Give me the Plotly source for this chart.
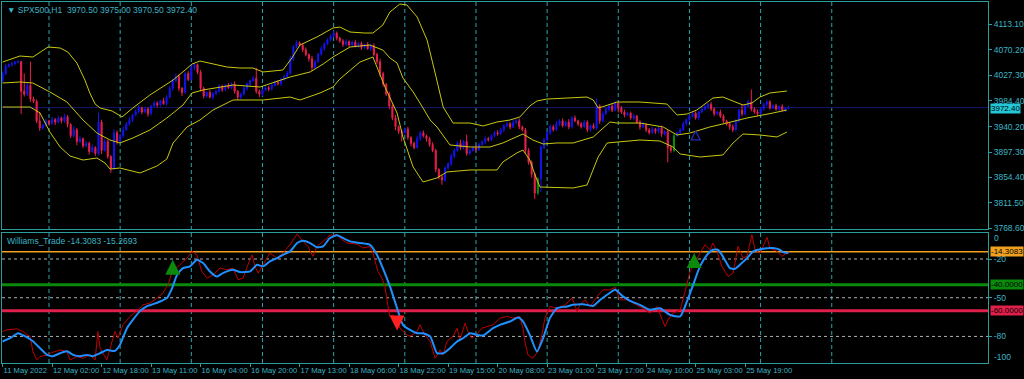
import plotly.graph_objects as go

# ---------------- data ----------------
first_open = 4018.0
closes = [
    4030, 4042, 4045, 4047, 4049, 4050, 4000, 3995, 4010, 3987,
    3983, 3950, 3938, 3942, 3950, 3946, 3952, 3948, 3955, 3950,
    3957, 3944, 3925, 3935, 3915, 3920, 3908, 3912, 3898, 3905,
    3895, 3948, 3900, 3915, 3890, 3870, 3930, 3915, 3925, 3935,
    3945, 3952, 3960, 3966, 3972, 3965, 3970, 3962, 3975, 3980,
    3977, 3984, 3979, 3990, 4005, 4018, 4025, 4005, 3998, 4030,
    4020, 4040, 4045, 4032, 4005, 3992, 3998, 3990, 3996, 4000,
    4008, 4003, 4010, 4006, 4012, 4000, 3990, 3995, 4005, 4012,
    4018, 4022, 4000, 3995, 4002, 4006, 4004, 4010, 4015, 4013,
    4020, 4025, 4030, 4055, 4075, 4082, 4078, 4070, 4062, 4055,
    4040, 4050, 4063, 4072, 4080, 4087, 4093, 4098, 4090, 4085,
    4079, 4084, 4078, 4083, 4076, 4081, 4074, 4079, 4072, 4077,
    4062, 4050, 4030, 4012, 3995, 3975, 3955, 3940, 3932, 3930,
    3936, 3922, 3912, 3905, 3920, 3930, 3925, 3920, 3910, 3900,
    3868, 3855, 3850, 3870, 3878, 3890, 3900, 3912, 3905, 3915,
    3895, 3900, 3905, 3902, 3910, 3915, 3920, 3918, 3925, 3930,
    3928, 3935, 3942, 3945, 3940, 3947, 3950, 3940, 3935, 3900,
    3880, 3860, 3828, 3852, 3905, 3918, 3930, 3940, 3935, 3945,
    3950, 3942, 3948, 3940, 3955, 3950, 3945, 3940, 3948, 3935,
    3942, 3938, 3975, 3950, 3962, 3970, 3975, 3968, 3980, 3972,
    3965, 3960, 3963, 3955, 3958, 3948, 3940, 3944, 3935, 3930,
    3936, 3932, 3938, 3928, 3932, 3905, 3900, 3925, 3930, 3935,
    3945, 3952, 3958, 3963, 3955, 3965, 3970, 3974, 3978, 3970,
    3962, 3965, 3958, 3950, 3945, 3940, 3935, 3950, 3968, 3962,
    3975, 3982, 3970, 3965, 3962, 3970, 3978, 3982, 3972, 3976,
    3970, 3974, 3968, 3970.5, 3972.4,
]
wick_up = [
    3, 4, 2, 3, 2, 3, 2, 30, 5, 40,
    4, 3, 15, 3, 4, 2, 5, 3, 4, 2,
    5, 3, 2, 6, 3, 5, 2, 4, 3, 5,
    2, 16, 4, 5, 3, 2, 6, 4, 3, 5,
    3, 4, 2, 3, 5, 2, 4, 3, 2, 4,
    3, 2, 5, 3, 4, 3, 5, 4, 2, 3,
    4, 5, 3, 2, 4, 3, 2, 4, 3, 2,
    4, 3, 2, 4, 3, 5, 2, 3, 4, 3,
    2, 4, 18, 3, 2, 4, 3, 2, 3, 4,
    2, 3, 4, 5, 3, 4, 2, 3, 4, 2,
    5, 3, 2, 4, 3, 2, 3, 4, 3, 2,
    3, 4, 2, 3, 4, 2, 3, 2, 4, 3,
    4, 3, 5, 3, 2, 4, 3, 5, 2, 4,
    3, 4, 2, 3, 5, 3, 4, 2, 3, 4,
    3, 2, 4, 3, 2, 5, 3, 4, 6, 3,
    12, 3, 2, 4, 3, 2, 4, 3, 2, 3,
    4, 3, 2, 4, 3, 5, 3, 4, 2, 3,
    4, 3, 2, 3, 4, 3, 2, 4, 3, 5,
    3, 4, 2, 5, 3, 4, 2, 3, 4, 3,
    2, 4, 13, 3, 4, 2, 3, 5, 3, 2,
    3, 4, 2, 3, 4, 2, 3, 4, 2, 3,
    4, 2, 3, 4, 2, 3, 4, 3, 2, 3,
    4, 2, 3, 4, 3, 2, 4, 3, 2, 4,
    3, 2, 4, 3, 2, 3, 4, 3, 2, 10,
    3, 4, 21, 3, 4, 2, 3, 4, 3, 2,
    3, 2, 4, 3, 2.6,
]
wick_dn = [
    4, 3, 2, 4, 3, 2, 38, 4, 3, 5,
    3, 4, 5, 3, 2, 4, 3, 5, 2, 4,
    3, 5, 4, 3, 6, 2, 4, 3, 5, 2,
    4, 3, 6, 2, 4, 8, 3, 5, 2, 3,
    2, 3, 4, 2, 3, 4, 2, 5, 3, 2,
    4, 3, 2, 3, 2, 4, 3, 5, 6, 2,
    3, 2, 4, 3, 5, 4, 3, 2, 4, 3,
    2, 4, 3, 2, 3, 4, 5, 3, 2, 4,
    3, 2, 4, 5, 3, 2, 4, 3, 2, 3,
    4, 2, 3, 2, 4, 3, 2, 4, 3, 5,
    6, 3, 2, 3, 4, 2, 3, 2, 4, 3,
    4, 2, 3, 4, 2, 3, 4, 3, 2, 4,
    3, 4, 5, 4, 3, 5, 4, 6, 4, 15,
    3, 4, 5, 3, 2, 4, 3, 5, 4, 3,
    5, 4, 8, 3, 2, 4, 3, 2, 4, 3,
    4, 3, 2, 4, 3, 2, 4, 3, 2, 3,
    3, 2, 4, 3, 4, 2, 3, 4, 3, 5,
    4, 6, 10, 3, 22, 3, 2, 4, 3, 2,
    4, 3, 2, 4, 3, 2, 4, 3, 2, 4,
    3, 2, 4, 5, 3, 2, 4, 3, 2, 8,
    3, 4, 2, 3, 4, 3, 5, 2, 4, 3,
    2, 4, 3, 5, 3, 25, 4, 3, 2, 3,
    2, 3, 4, 2, 3, 4, 2, 3, 4, 3,
    4, 2, 3, 4, 3, 5, 4, 3, 2, 4,
    3, 2, 4, 3, 4, 2, 3, 4, 3, 2,
    3, 4, 2, 3, 0,
]
green_bars = [173, 217]

upper_x = [0, 5.6, 9.8, 14.7, 18.6, 21.1, 24.0, 26.6, 28.2, 29.9,
           31.5, 35.4, 38.6, 42.1, 47.6, 50.9, 55.1, 59.0, 61.2, 63.8,
           68.0, 72.5, 76.7, 80.9, 84.2, 88.0, 90.6, 93.5, 96.1, 101.6,
           106.8, 109.0, 112.3, 117.1, 119.7, 122.9, 125.2, 128.4, 130.7, 134.0,
           137.2, 139.8, 142.4, 145.6, 151.1, 155.3, 159.8, 164.0, 167.2, 170.4,
           172.7, 175.9, 184.4, 188.9, 190.9, 192.5, 194.7, 198.6, 206.0, 214.7,
           218.0, 221.2, 224.4, 229.6, 232.8, 235.1, 239.3, 242.2, 244.8, 248.0,
           253.5]
upper_y = [4049.4, 4059.6, 4057.9, 4074.8, 4073.1, 4066.3, 4047.8, 4019.0, 3997.1, 3978.5,
           3971.8, 3966.7, 3956.6, 3971.8, 3993.7, 4005.5, 4019.0, 4035.9, 4046.0, 4051.1,
           4046.0, 4041.0, 4039.3, 4039.3, 4032.6, 4034.2, 4035.9, 4056.2, 4078.1, 4091.7,
           4106.9, 4108.5, 4100.1, 4098.4, 4098.4, 4111.9, 4133.9, 4147.4, 4145.7, 4125.4,
           4086.6, 4030.9, 3973.4, 3946.4, 3946.4, 3941.4, 3948.1, 3951.5, 3956.6, 3975.1,
           3983.6, 3986.9, 3988.6, 3990.3, 3985.3, 3971.8, 3975.1, 3981.9, 3981.9, 3978.5,
           3960.0, 3961.6, 3968.4, 3988.6, 3990.3, 3985.3, 3976.8, 3980.2, 3990.3, 3997.1,
           4000.5]
mid_x = [0, 5.6, 9.8, 15.3, 20.8, 26.0, 30.5, 34.7, 37.9, 42.1,
         47.6, 53.1, 58.3, 61.2, 64.8, 70.3, 74.5, 83.2, 88.0, 92.9,
         99.4, 103.6, 106.8, 109.0, 112.3, 118.7, 122.9, 125.2, 127.5, 129.4,
         132.7, 134.9, 138.2, 140.4, 144.6, 151.1, 157.5, 161.7, 166.2, 168.2,
         171.4, 174.7, 179.2, 184.4, 190.9, 196.3, 198.6, 206.0, 213.5, 218.0,
         222.2, 228.6, 234.1, 240.6, 249.0, 253.5]
mid_y = [4014.0, 4015.7, 4014.0, 3998.8, 3981.9, 3951.5, 3929.5, 3917.7, 3912.7, 3921.1,
         3934.6, 3954.9, 3976.8, 3997.1, 4002.2, 4007.2, 4010.6, 4007.2, 4015.7, 4024.1,
         4032.6, 4046.0, 4057.9, 4064.6, 4074.8, 4078.1, 4069.7, 4056.2, 4047.8, 4022.4,
         3998.8, 3980.2, 3951.5, 3939.7, 3909.3, 3905.9, 3905.9, 3912.7, 3922.8, 3927.9,
         3917.7, 3911.0, 3912.7, 3912.7, 3922.8, 3948.1, 3946.4, 3946.4, 3939.7, 3926.2,
         3929.5, 3939.7, 3946.4, 3954.9, 3963.3, 3968.4]
low_x = [0, 8.9, 12.1, 15.3, 18.6, 21.8, 26.0, 30.5, 33.1, 34.7,
         37.9, 44.4, 49.9, 53.1, 55.1, 59.6, 63.8, 68.0, 74.5, 84.2,
         92.9, 96.1, 102.6, 106.8, 109.0, 115.5, 119.7, 123.6, 127.5, 129.4,
         132.7, 135.9, 140.4, 143.6, 151.1, 159.8, 161.7, 166.2, 168.2, 170.4,
         172.7, 173.7, 184.4, 188.9, 192.5, 195.4, 206.0, 212.5, 216.7, 219.0,
         225.4, 232.8, 236.1, 239.3, 244.8, 250.3, 253.5]
low_y = [3973.4, 3973.4, 3963.3, 3931.2, 3905.9, 3890.7, 3883.9, 3887.3, 3878.9, 3868.7,
         3870.4, 3862.0, 3873.8, 3885.6, 3912.7, 3939.7, 3951.5, 3968.4, 3985.3, 3985.3,
         3990.3, 3985.3, 3997.1, 4007.2, 4020.7, 4049.4, 4057.9, 4007.2, 3963.3, 3922.8,
         3872.1, 3846.8, 3853.6, 3863.7, 3867.1, 3867.1, 3880.6, 3895.8, 3900.8, 3883.9,
         3850.2, 3838.3, 3836.7, 3841.7, 3889.0, 3912.7, 3917.7, 3916.0, 3905.9, 3894.1,
         3889.0, 3892.4, 3912.7, 3927.9, 3926.2, 3922.8, 3931.2]

# Williams %R (raw, red) and its signal (blue)
wr_x = [0, 1.4, 4.7, 6.6, 7.9, 8.9, 9.8, 11.1, 12.1, 14.4,
        16.3, 18.6, 20.8, 21.8, 24.0, 26.0, 28.2, 29.9, 30.8, 31.5,
        33.7, 34.7, 36.3, 37.3, 38.9, 41.2, 43.4, 45.4, 47.6, 49.9,
        51.8, 53.5, 54.8, 57.3, 59.6, 61.2, 62.8, 64.4, 66.1, 68.0,
        70.3, 72.5, 74.5, 76.1, 77.7, 79.3, 80.6, 81.6, 82.6, 84.2,
        86.4, 88.7, 90.6, 92.9, 95.2, 97.1, 98.7, 100.3, 101.6, 103.6,
        105.8, 108.1, 109.0, 111.3, 114.6, 116.5, 118.7, 119.7, 121.3, 122.6,
        123.6, 124.2, 125.2, 126.2, 127.5, 128.4, 130.7, 131.7, 134.0, 134.9,
        136.5, 138.2, 139.8, 141.4, 142.4, 143.6, 145.6, 146.9, 147.8, 149.5,
        150.4, 151.7, 153.3, 154.9, 156.6, 158.5, 160.8, 163.0, 164.9, 167.2,
        168.2, 168.8, 169.8, 171.4, 173.0, 174.3, 175.3, 176.9, 179.2, 181.8,
        184.1, 185.7, 186.6, 188.2, 189.9, 192.2, 194.1, 196.3, 198.0, 199.6,
        201.8, 203.7, 207.0, 209.2, 211.5, 214.1, 215.1, 216.7, 219.0, 220.6,
        222.2, 223.8, 225.4, 227.1, 228.6, 229.6, 230.9, 232.5, 234.5, 236.1,
        237.7, 239.3, 240.6, 242.2, 243.2, 244.8, 247.1, 248.0, 250.3, 251.9,
        253.5, 254]
wr_v = [-76.2, -74.9, -74.1, -76.2, -78.8, -80.0, -91.7, -98.2, -95.6, -94.3,
        -92.2, -90.5, -91.7, -98.2, -95.6, -96.9, -94.3, -98.2, -76.2, -89.1,
        -98.2, -89.1, -76.2, -81.4, -71.0, -64.5, -60.2, -55.5, -54.2, -50.3,
        -46.4, -40.0, -29.6, -24.5, -19.3, -14.1, -16.7, -29.6, -34.8, -32.2,
        -27.0, -28.3, -27.0, -36.1, -34.8, -24.5, -16.7, -25.7, -30.9, -24.5,
        -15.4, -19.3, -15.4, -8.9, -0.6, -6.3, -10.2, -17.9, -10.2, -6.3,
        -1.6, -1.2, -3.7, -7.6, -8.4, -11.5, -10.2, -15.4, -29.6, -34.8,
        -41.2, -51.6, -64.5, -63.3, -68.4, -73.6, -78.8, -80.0, -76.2, -71.0,
        -78.8, -83.9, -96.9, -90.5, -94.3, -83.9, -80.0, -73.6, -82.7, -69.7,
        -76.2, -81.4, -78.3, -73.6, -72.3, -71.0, -65.8, -64.5, -65.8, -64.5,
        -73.6, -83.9, -94.3, -96.9, -91.7, -78.8, -65.8, -56.8, -58.1, -55.5,
        -50.3, -60.6, -55.5, -51.6, -56.8, -49.0, -43.9, -43.9, -42.0, -51.6,
        -51.6, -54.2, -58.1, -62.0, -56.8, -72.3, -67.2, -62.0, -59.4, -45.1,
        -29.6, -23.1, -15.4, -8.9, -12.8, -7.6, -14.1, -25.7, -33.5, -30.9,
        -10.2, -19.3, -17.9, -1.2, -12.8, -15.4, -3.2, -11.5, -14.1, -17.9,
        -15.4, -14.3083]
sig_x = [0, 2.4, 5.0, 7.2, 9.8, 12.1, 14.4, 16.3, 18.6, 20.8,
         22.8, 25.0, 27.3, 29.2, 31.5, 33.7, 36.3, 37.9, 40.2, 42.1,
         44.4, 46.7, 48.6, 50.9, 53.1, 54.8, 56.4, 58.3, 60.6, 62.8,
         64.8, 67.0, 69.3, 71.2, 74.5, 76.7, 80.0, 82.2, 84.2, 86.4,
         88.7, 90.6, 92.9, 95.2, 97.1, 99.4, 101.6, 103.6, 105.8, 108.1,
         109.0, 112.3, 115.5, 118.7, 121.0, 122.9, 125.2, 127.5, 129.4, 131.7,
         134.0, 135.9, 138.2, 140.4, 142.4, 144.6, 146.9, 148.8, 151.1, 153.3,
         155.3, 158.5, 160.8, 164.0, 166.6, 168.2, 170.4, 172.7, 174.7, 176.9,
         179.2, 182.4, 184.4, 187.6, 190.9, 193.2, 195.4, 198.0, 200.5, 202.8,
         206.0, 209.2, 212.5, 215.7, 219.0, 221.2, 223.2, 225.4, 227.7, 229.6,
         231.2, 232.8, 235.1, 236.7, 238.3, 240.6, 242.6, 245.8, 249.0, 251.2,
         252.2, 254]
sig_v = [-83.9, -81.4, -77.5, -79.8, -83.7, -89.1, -94.3, -95.3, -93.0, -91.5,
         -94.3, -95.3, -94.3, -95.3, -93.0, -90.5, -91.2, -86.6, -73.6, -67.2,
         -60.4, -56.5, -55.0, -52.9, -50.3, -42.5, -32.2, -27.0, -25.7, -20.6,
         -23.1, -29.6, -33.5, -30.9, -28.3, -30.1, -29.6, -24.5, -25.7, -21.8,
         -19.3, -16.7, -14.1, -7.6, -5.8, -7.6, -10.9, -10.2, -3.7, -1.6,
         -2.4, -6.3, -7.6, -8.9, -16.7, -27.0, -41.2, -58.1, -71.0, -74.9,
         -77.5, -77.5, -80.0, -93.0, -93.0, -89.1, -83.9, -81.4, -77.5, -78.8,
         -79.3, -73.6, -71.0, -68.4, -65.3, -68.4, -78.8, -91.7, -81.4, -65.8,
         -58.1, -56.8, -55.5, -55.0, -56.3, -51.6, -47.7, -43.9, -49.0, -52.4,
         -55.5, -59.4, -58.1, -63.3, -64.5, -52.9, -40.0, -25.7, -16.7, -12.8,
         -12.8, -17.9, -27.0, -27.6, -24.5, -19.3, -14.1, -12.0, -11.5, -12.8,
         -14.6, -15.2693]

# signals
up_sig_bars = [55, 223.5]
up_sig_vals = [-20.6, -15.4]
dn_sig_bars = [127.5]
dn_sig_vals = [-75.4]
main_arrow_bars = [224]
main_arrow_prices = [3933.0]

# axes / labels
price_ticks = [4113.10, 4070.20, 4027.30, 3984.40, 3940.20, 3897.30, 3854.40, 3811.50, 3768.60]
price_tick_text = ["4113.10", "4070.20", "4027.30", "3984.40", "3940.20", "3897.30", "3854.40", "3811.50", "3768.60"]
bid_price = 3972.40
time_label_bars = [0, 16, 32, 48, 64, 80, 96, 112, 128, 144, 160, 176, 192, 208, 224, 240]
time_labels = ["11 May 2022", "12 May 02:00", "12 May 18:00", "13 May 11:00", "16 May 04:00",
               "16 May 20:00", "17 May 13:00", "18 May 06:00", "18 May 22:00", "19 May 15:00",
               "20 May 08:00", "23 May 01:00", "23 May 17:00", "24 May 10:00", "25 May 03:00",
               "25 May 19:00"]
grid_bars = [15, 38, 61, 84, 107, 130, 153, 176, 199, 222, 245, 268]
wr_current = -14.3083
wr_signal_current = -15.2693
level_buy = -40.0
level_sell = -60.0
dashed_levels = [-20, -50, -80]
wr_axis_ticks = [-20, -50, -80]
wr_edge_ticks = [0, -100]

# ---------------- styling ----------------
FONT = "Liberation Sans, Arial, sans-serif"
FRAME = "#2a9d9d"
TXT = "#3cb4c4"
GRID = "#26a6ae"
UP = "#1414f0"
DN = "#e8204c"
GRN = "#0a8f0a"
BAND = "#c8c810"
BID = "#16166e"
WR_RED = "#c00000"
WR_BLUE = "#2090ff"
ORANGE = "#f0a020"
LV_GREEN = "#0a8a0a"
LV_RED = "#e0204a"
DASHC = "#b0b0b0"
XR = [-0.19, 318.5]

N = len(closes)
opens = [first_open] + closes[:-1]
highs = [max(o, c) + u for o, c, u in zip(opens, closes, wick_up)]
lows = [min(o, c) - d for o, c, d in zip(opens, closes, wick_dn)]
bars = list(range(N))
norm = [i for i in bars if i not in green_bars]

fig = go.Figure()

fig.add_trace(go.Candlestick(
    x=norm, open=[opens[i] for i in norm], high=[highs[i] for i in norm],
    low=[lows[i] for i in norm], close=[closes[i] for i in norm],
    xaxis="x", yaxis="y",
    increasing=dict(line=dict(color=UP, width=1), fillcolor=UP),
    decreasing=dict(line=dict(color=DN, width=1), fillcolor=DN),
    whiskerwidth=0, showlegend=False, hoverinfo="skip"))
fig.add_trace(go.Candlestick(
    x=green_bars, open=[opens[i] for i in green_bars], high=[highs[i] for i in green_bars],
    low=[lows[i] for i in green_bars], close=[closes[i] for i in green_bars],
    xaxis="x", yaxis="y",
    increasing=dict(line=dict(color=GRN, width=1), fillcolor=GRN),
    decreasing=dict(line=dict(color=GRN, width=1), fillcolor=GRN),
    whiskerwidth=0, showlegend=False, hoverinfo="skip"))

for bx, by in ((upper_x, upper_y), (mid_x, mid_y), (low_x, low_y)):
    fig.add_trace(go.Scatter(x=bx, y=by, mode="lines", xaxis="x", yaxis="y",
                             line=dict(color=BAND, width=1), showlegend=False, hoverinfo="skip"))

fig.add_trace(go.Scatter(x=main_arrow_bars, y=main_arrow_prices, mode="markers", xaxis="x", yaxis="y",
                         marker=dict(symbol="arrow-up-open", size=9, color="#2a2ab8",
                                     line=dict(color="#2a2ab8", width=1.2)),
                         showlegend=False, hoverinfo="skip"))

fig.add_trace(go.Scatter(x=wr_x, y=wr_v, mode="lines", xaxis="x2", yaxis="y2",
                         line=dict(color=WR_RED, width=1), showlegend=False, hoverinfo="skip"))
fig.add_trace(go.Scatter(x=sig_x, y=sig_v, mode="lines", xaxis="x2", yaxis="y2",
                         line=dict(color=WR_BLUE, width=2, shape="spline", smoothing=0.5),
                         showlegend=False, hoverinfo="skip"))

shapes = []
for g in grid_bars:
    shapes.append(dict(type="line", xref="x", yref="paper", x0=g, x1=g, y0=0, y1=1,
                       line=dict(color=GRID, width=1, dash="4px,3px"), layer="below"))
shapes.append(dict(type="line", xref="x domain", yref="y", x0=0, x1=1, y0=bid_price, y1=bid_price,
                   line=dict(color=BID, width=1), layer="below"))
for lv in dashed_levels:
    shapes.append(dict(type="line", xref="x2 domain", yref="y2", x0=0, x1=1, y0=lv, y1=lv,
                       line=dict(color=DASHC, width=1, dash="3px,3px"), layer="below"))
shapes.append(dict(type="line", xref="x2 domain", yref="y2", x0=0, x1=1, y0=wr_current, y1=wr_current,
                   line=dict(color=ORANGE, width=1.5), layer="below"))
shapes.append(dict(type="line", xref="x2 domain", yref="y2", x0=0, x1=1, y0=level_buy, y1=level_buy,
                   line=dict(color=LV_GREEN, width=3), layer="below"))
shapes.append(dict(type="line", xref="x2 domain", yref="y2", x0=0, x1=1, y0=level_sell, y1=level_sell,
                   line=dict(color=LV_RED, width=3), layer="below"))

tf = dict(family=FONT, size=8.5, color=TXT)
xf = dict(family=FONT, size=7.6, color=TXT)
ann = []
ann.append(dict(xref="paper", yref="paper", x=0, y=1, xanchor="left", yanchor="top", xshift=3, yshift=-1,
                text="▼ SPX500,H1  3970.50 3975.00 3970.50 3972.40", showarrow=False, font=tf))
ann.append(dict(xref="paper", yref="y2 domain", x=0, y=1, xanchor="left", yanchor="top", xshift=3, yshift=-1,
                text="Williams_Trade -14.3083 -15.2693", showarrow=False, font=tf))


def box(yref, yv, text, bg, ys=0):
    return dict(xref="paper", yref=yref, x=1, y=yv, xanchor="left", yanchor="middle", xshift=2,
                yshift=ys, text=text, showarrow=False, bgcolor=bg, borderpad=0,
                font=dict(family=FONT, size=8, color="#000000"))


ann.append(box("y", bid_price, f"{bid_price:.2f}", "#22c8d8", -1))
ann.append(box("y2", wr_current, f"{wr_current:.4f}", ORANGE))
ann.append(box("y2", level_buy, f"{level_buy:.4f}", LV_GREEN))
ann.append(box("y2", level_sell, f"{level_sell:.4f}", LV_RED))
for v, sh in zip(wr_edge_ticks, [-5, 5]):
    ann.append(dict(xref="paper", yref="y2", x=1, y=v, xanchor="left", yanchor="middle", xshift=4,
                    yshift=sh, text=str(v), showarrow=False, font=tf))
for bx, v in zip(up_sig_bars, up_sig_vals):
    ann.append(dict(xref="x2", yref="y2", x=bx, y=v, ax=0, ay=15, text="", showarrow=True,
                    arrowhead=2, arrowsize=0.75, arrowwidth=4, arrowcolor="#0b8a0b"))
for bx, v in zip(dn_sig_bars, dn_sig_vals):
    ann.append(dict(xref="x2", yref="y2", x=bx, y=v, ax=0, ay=-15, text="", showarrow=True,
                    arrowhead=2, arrowsize=0.75, arrowwidth=4, arrowcolor="#ff2020"))

axis_common = dict(showgrid=False, zeroline=False, showline=True, mirror=True,
                   linecolor=FRAME, linewidth=1, fixedrange=True, automargin=False)
fig.update_layout(
    width=1024, height=379, margin=dict(l=2, r=36, t=2, b=16, autoexpand=False),
    paper_bgcolor="#000000", plot_bgcolor="#000000", showlegend=False, boxgap=0.5,
    font=dict(family=FONT, size=9, color=TXT),
    xaxis=dict(domain=[0, 1], anchor="y", range=XR, showticklabels=False, ticks="",
               rangeslider=dict(visible=False), **axis_common),
    yaxis=dict(domain=[0.3712, 1], anchor="x", range=[3767.4, 4150.8], side="right",
               tickvals=price_ticks, ticktext=price_tick_text, ticks="outside", ticklen=3,
               tickcolor=FRAME, tickfont=tf, **axis_common),
    xaxis2=dict(domain=[0, 1], anchor="y2", range=XR, tickvals=time_label_bars, ticktext=time_labels,
                ticks="outside", ticklen=3, tickcolor=FRAME, tickfont=xf, tickangle=0,
                ticklabelposition="outside right", rangeslider=dict(visible=False), **axis_common),
    yaxis2=dict(domain=[0, 0.3609], anchor="x2", range=[-100.6, 0.4], side="right",
                tickvals=wr_axis_ticks, ticktext=[str(t) for t in wr_axis_ticks], ticks="outside",
                ticklen=3, tickcolor=FRAME, tickfont=tf, **axis_common),
    shapes=shapes, annotations=ann,
)

fig.write_html("out.html")
